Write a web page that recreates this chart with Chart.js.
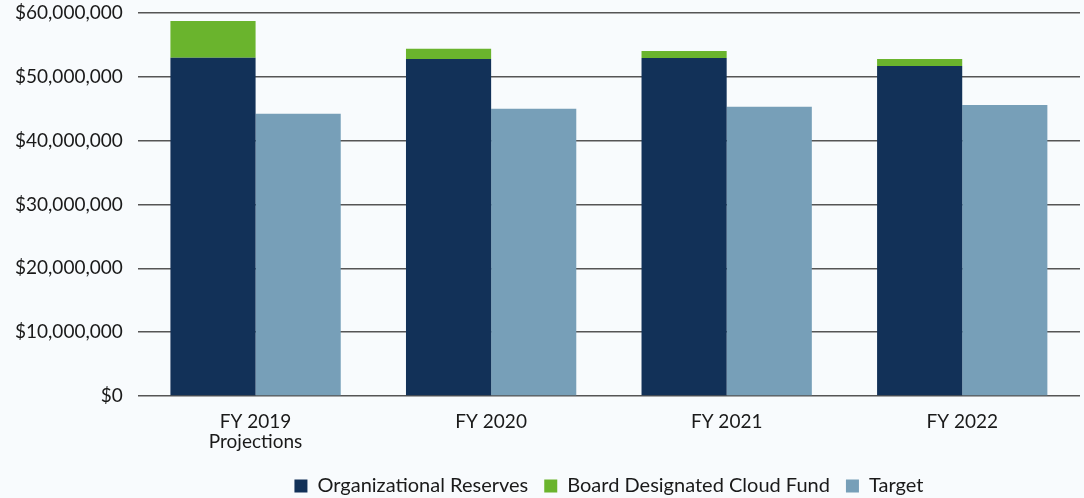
<!DOCTYPE html>
<html>
<head>
<meta charset="utf-8">
<script src="https://cdn.jsdelivr.net/npm/chart.js@4/dist/chart.umd.min.js"></script>
<style>
  html, body { margin: 0; padding: 0; background: #f8fbfd; }
  #wrap { width: 1084px; height: 498px; position: relative; }
</style>
</head>
<body>
<div id="wrap"><canvas id="myChart"></canvas></div>
<script>
const categories = [["FY 2019", "Projections"], "FY 2020", "FY 2021", "FY 2022"];
const orgReserves = [53000000, 52800000, 52950000, 51700000];
const cloudFund = [5750000, 1600000, 1100000, 1100000];
const target = [44200000, 45000000, 45300000, 45600000];
const yTicks = [0, 10000000, 20000000, 30000000, 40000000, 50000000, 60000000];

const font = "Lato, 'Noto Sans', sans-serif";

// nudge the legend down a little
const legendShift = {
  id: "legendShift",
  afterLayout(chart) {
    const lg = chart.legend;
    if (lg) { lg.top += 8; lg.bottom += 8; }
  },
};

// chart
const ctx = document.getElementById("myChart").getContext("2d");
const myChart = new Chart(ctx, {
  type: "bar",
  data: {
    labels: categories,
    datasets: [
      { label: "Organizational Reserves", data: orgReserves, backgroundColor: "#123158", stack: "a" },
      { label: "Board Designated Cloud Fund", data: cloudFund, backgroundColor: "#6ab42d", stack: "a" },
      { label: "Target", data: target, backgroundColor: "#779fb8", stack: "b" },
    ],
  },
  plugins: [legendShift],
  options: {
    responsive: true,
    maintainAspectRatio: false,
    animation: false,
    layout: { padding: { top: 13, right: 4, left: 0, bottom: 0 } },
    datasets: { bar: { categoryPercentage: 0.723, barPercentage: 1 } },
    plugins: {
      tooltip: { enabled: false },
      legend: {
        position: "bottom",
        fullSize: false,
        labels: {
          boxWidth: 13,
          boxHeight: 13,
          padding: 16,
          color: "#1a1a1a",
          font: { family: font, size: 20 },
        },
      },
    },
    scales: {
      x: {
        stacked: true,
        grid: { display: false },
        border: { display: false },
        ticks: { color: "#1a1a1a", font: { family: font, size: 19, lineHeight: 1.1 }, padding: 7 },
        afterFit: (s) => { s.height = 56; },
      },
      y: {
        stacked: true,
        min: 0,
        max: 60000000,
        afterBuildTicks: (axis) => { axis.ticks = yTicks.map(v => ({ value: v })); },
        afterFit: (s) => { s.paddingTop = 0; s.paddingBottom = 0; },
        grid: { color: "#555", lineWidth: 1.5, drawTicks: false },
        border: { display: false },
        ticks: {
          color: "#1a1a1a",
          font: { family: font, size: 19 },
          padding: 15,
          callback: (v) => "$" + Number(v).toLocaleString("en-US"),
        },
      },
    },
  },
});
</script>
</body>
</html>
